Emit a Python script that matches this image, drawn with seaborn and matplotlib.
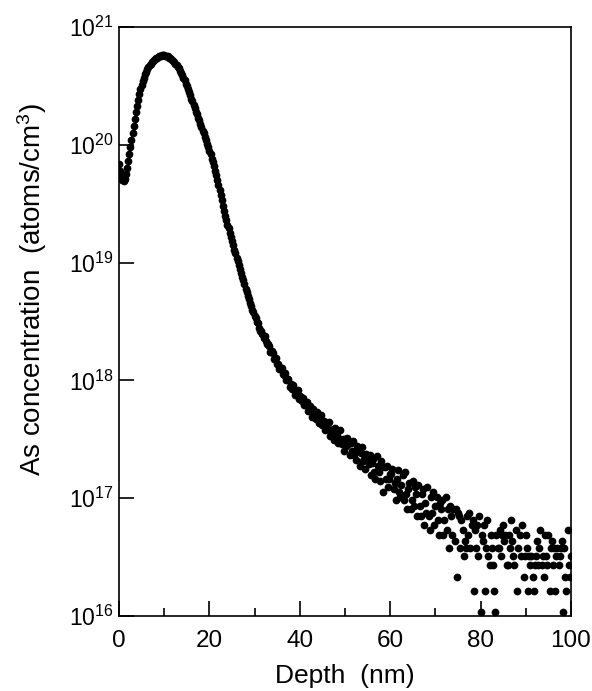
import matplotlib
matplotlib.use("Agg")
import matplotlib.pyplot as plt
import matplotlib.ticker as mticker
import numpy as np
import pandas as pd
import seaborn as sns

depth_near = [
    0.0, 0.25, 0.5, 0.75, 1.0, 1.25, 1.5, 1.75, 2.0, 2.25, 2.5, 2.75, 3.0, 3.25, 3.5, 3.75, 4.0, 4.25, 4.5, 4.75,
    5.0, 5.25, 5.5, 5.75, 6.0, 6.25, 6.5, 6.75, 7.0, 7.25, 7.5, 7.75, 8.0, 8.25, 8.5, 8.75, 9.0, 9.25, 9.5, 9.75,
    10.0, 10.25, 10.5, 10.75, 11.0, 11.25, 11.5, 11.75, 12.0, 12.25, 12.5, 12.75, 13.0, 13.25, 13.5, 13.75, 14.0, 14.25, 14.5, 14.75,
    15.0, 15.25, 15.5, 15.75, 16.0, 16.25, 16.5, 16.75, 17.0, 17.25, 17.5, 17.75, 18.0, 18.25, 18.5, 18.75, 19.0, 19.25, 19.5, 19.75,
    20.0, 20.25, 20.5, 20.75, 21.0, 21.25, 21.5, 21.75, 22.0, 22.25, 22.5, 22.75, 23.0, 23.25, 23.5, 23.75, 24.0, 24.25, 24.5, 24.75,
    25.0, 25.25, 25.5, 25.75, 26.0, 26.25, 26.5, 26.75, 27.0, 27.25, 27.5, 27.75, 28.0, 28.25, 28.5, 28.75, 29.0, 29.25, 29.5, 29.75,
    30.0,
]
log_conc_near = [
    19.84, 19.78, 19.73, 19.70, 19.69, 19.71, 19.75, 19.80, 19.86, 19.92, 19.98, 20.04, 20.10, 20.16, 20.22, 20.28, 20.33, 20.38, 20.43, 20.47,
    20.51, 20.54, 20.57, 20.60, 20.62, 20.64, 20.66, 20.68, 20.69, 20.70, 20.71, 20.72, 20.73, 20.74, 20.74, 20.75, 20.75, 20.75, 20.76, 20.76,
    20.76, 20.75, 20.75, 20.75, 20.74, 20.74, 20.73, 20.72, 20.71, 20.70, 20.69, 20.68, 20.66, 20.65, 20.63, 20.61, 20.59, 20.57, 20.55, 20.52,
    20.50, 20.47, 20.45, 20.42, 20.39, 20.37, 20.34, 20.31, 20.28, 20.26, 20.23, 20.21, 20.18, 20.15, 20.12, 20.10, 20.07, 20.04, 20.01, 19.98,
    19.95, 19.92, 19.88, 19.85, 19.82, 19.78, 19.74, 19.70, 19.66, 19.62, 19.57, 19.53, 19.48, 19.44, 19.40, 19.36, 19.32, 19.29, 19.25, 19.22,
    19.18, 19.15, 19.11, 19.08, 19.04, 19.01, 18.98, 18.95, 18.91, 18.88, 18.85, 18.82, 18.78, 18.75, 18.72, 18.69, 18.66, 18.63, 18.60, 18.58,
    18.55,
]

count_unit = 5.4e15
depth_tail = [
    30.25, 30.5, 30.75, 31.0, 31.25, 31.5, 31.75, 32.0, 32.25, 32.5, 32.75, 33.0, 33.25, 33.5, 33.75, 34.0, 34.25, 34.5, 34.75, 35.0,
    35.25, 35.5, 35.75, 36.0, 36.25, 36.5, 36.75, 37.0, 37.25, 37.5, 37.75, 38.0, 38.25, 38.5, 38.75, 39.0, 39.25, 39.5, 39.75, 40.0,
    40.25, 40.5, 40.75, 41.0, 41.25, 41.5, 41.75, 42.0, 42.25, 42.5, 42.75, 43.0, 43.25, 43.5, 43.75, 44.0, 44.25, 44.5, 44.75, 45.0,
    45.25, 45.5, 45.75, 46.0, 46.25, 46.5, 46.75, 47.0, 47.25, 47.5, 47.75, 48.0, 48.25, 48.5, 48.75, 49.0, 49.25, 49.5, 49.75, 50.0,
    50.25, 50.5, 50.75, 51.0, 51.25, 51.5, 51.75, 52.0, 52.25, 52.5, 52.75, 53.0, 53.25, 53.5, 53.75, 54.0, 54.25, 54.5, 54.75, 55.0,
    55.25, 55.5, 55.75, 56.0, 56.25, 56.5, 56.75, 57.0, 57.25, 57.5, 57.75, 58.0, 58.25, 58.5, 58.75, 59.0, 59.25, 59.5, 59.75, 60.0,
    60.25, 60.5, 60.75, 61.0, 61.25, 61.5, 61.75, 62.0, 62.25, 62.5, 62.75, 63.0, 63.25, 63.5, 63.75, 64.0, 64.25, 64.5, 64.75, 65.0,
    65.25, 65.5, 65.75, 66.0, 66.25, 66.5, 66.75, 67.0, 67.25, 67.5, 67.75, 68.0, 68.25, 68.5, 68.75, 69.0, 69.25, 69.5, 69.75, 70.0,
    70.25, 70.5, 70.75, 71.0, 71.25, 71.5, 71.75, 72.0, 72.25, 72.5, 72.75, 73.0, 73.25, 73.5, 73.75, 74.0, 74.25, 74.5, 74.75, 75.0,
    75.25, 75.5, 75.75, 76.0, 76.25, 76.5, 76.75, 77.0, 77.25, 77.5, 77.75, 78.0, 78.25, 78.5, 78.75, 79.0, 79.25, 79.5, 79.75, 80.0,
    80.25, 80.5, 80.75, 81.0, 81.25, 81.5, 81.75, 82.0, 82.25, 82.5, 82.75, 83.0, 83.25, 83.5, 83.75, 84.0, 84.25, 84.5, 84.75, 85.0,
    85.25, 85.5, 85.75, 86.0, 86.25, 86.5, 86.75, 87.0, 87.25, 87.5, 87.75, 88.0, 88.25, 88.5, 88.75, 89.0, 89.25, 89.5, 89.75, 90.0,
    90.25, 90.5, 90.75, 91.0, 91.25, 91.5, 91.75, 92.0, 92.25, 92.5, 92.75, 93.0, 93.25, 93.5, 93.75, 94.0, 94.25, 94.5, 94.75, 95.0,
    95.25, 95.5, 95.75, 96.0, 96.25, 96.5, 96.75, 97.0, 97.25, 97.5, 97.75, 98.0, 98.25, 98.5, 98.75, 99.0, 99.25, 99.5, 99.75, 100.0,
]
counts_tail = [
    630, 584, 570, 512, 482, 484, 458, 422, 438, 397, 377, 374, 365, 325, 326, 317, 280, 283, 286, 255,
    257, 231, 235, 237, 208, 205, 213, 188, 189, 191, 162, 173, 157, 170, 153, 139, 153, 154, 129, 137,
    134, 125, 132, 114, 118, 122, 102, 106, 113, 106, 90, 105, 96, 87, 100, 87, 80, 90, 95, 78,
    84, 70, 78, 81, 72, 82, 63, 68, 71, 58, 73, 60, 64, 55, 59, 70, 53, 59, 47, 59,
    51, 60, 53, 43, 54, 47, 57, 43, 47, 39, 51, 48, 35, 45, 50, 38, 40, 33, 44, 40,
    36, 43, 29, 37, 40, 31, 27, 42, 35, 31, 26, 38, 34, 21, 34, 27, 35, 23, 27, 30,
    30, 33, 22, 25, 18, 27, 32, 21, 19, 24, 29, 18, 31, 20, 15, 22, 25, 15, 18, 26,
    16, 23, 20, 13, 24, 16, 13, 20, 22, 11, 17, 14, 23, 13, 10, 19, 14, 21, 11, 16,
    19, 12, 9, 17, 15, 18, 9, 12, 19, 10, 15, 7, 16, 13, 9, 15, 8, 15, 4, 14,
    13, 7, 12, 10, 6, 8, 7, 13, 9, 14, 7, 11, 12, 3, 10, 7, 11, 6, 13, 2,
    9, 8, 11, 3, 7, 12, 6, 5, 9, 7, 5, 3, 2, 9, 7, 7, 10, 6, 9, 11,
    8, 9, 5, 5, 9, 7, 12, 8, 6, 5, 10, 3, 7, 1, 9, 6, 11, 4, 6, 9,
    7, 3, 6, 5, 6, 4, 3, 5, 6, 8, 5, 7, 10, 5, 6, 4, 9, 6, 5, 9,
    3, 7, 8, 5, 7, 3, 6, 7, 5, 6, 7, 8, 2, 7, 4, 3, 10, 5, 4, 6,
]

df = pd.DataFrame({
    "depth": np.concatenate([depth_near, depth_tail]),
    "conc": np.concatenate([10.0 ** np.array(log_conc_near),
                            np.array(counts_tail) * count_unit]),
})

sns.set_style("ticks")
plt.rcParams['font.family'] = ['Liberation Sans', 'DejaVu Sans']
plt.rcParams['mathtext.fontset'] = 'custom'
plt.rcParams['mathtext.rm'] = 'Liberation Sans'
plt.rcParams['mathtext.it'] = 'Liberation Sans:italic'

fig = plt.figure(figsize=(5.92, 6.91), dpi=100)
ax = fig.add_axes([0.201, 0.1085, 0.7635, 0.8524])

sns.scatterplot(data=df, x="depth", y="conc", ax=ax, color="black",
                s=31, linewidth=0, legend=False)

ax.set_yscale("log")
ax.set_xlim(0, 100)
ax.set_ylim(1e16, 1e21)

ax.xaxis.set_major_locator(mticker.MultipleLocator(20))
ax.xaxis.set_minor_locator(mticker.MultipleLocator(10))
ax.yaxis.set_major_locator(mticker.LogLocator(base=10, numticks=10))
ax.yaxis.set_minor_locator(mticker.NullLocator())

for side in ["left", "right", "top", "bottom"]:
    ax.spines[side].set_color("black")
    ax.spines[side].set_linewidth(1.2)

ax.tick_params(axis="both", which="major", direction="in", length=11, width=1.2,
               color="black", labelcolor="black")
ax.tick_params(axis="x", which="major", pad=10, labelsize=17.5)
ax.tick_params(axis="y", which="major", pad=4, labelsize=16.5)
ax.tick_params(axis="x", which="minor", direction="in", length=5.5, width=1.2, color="black")
ax.tick_params(top=False, right=False)

ax.set_xlabel("Depth  (nm)", fontsize=19, color="black")
ax.set_ylabel("As concentration  (atoms/cm$^{3}$)", fontsize=20, color="black")
ax.xaxis.set_label_coords(0.5, -0.081)
ax.yaxis.set_label_coords(-0.155, 0.555)

fig.savefig("out.png", dpi=100)
